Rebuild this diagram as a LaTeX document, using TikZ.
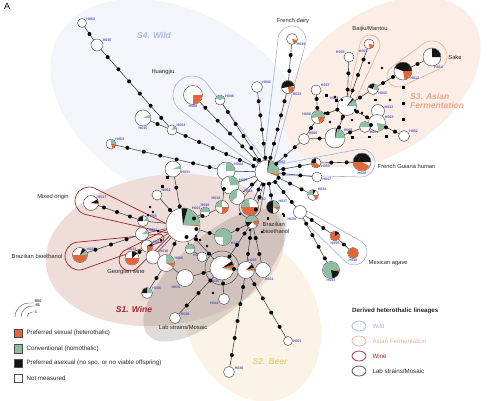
\documentclass[tikz,border=0pt]{standalone}
\usepackage{fontspec}
\setmainfont{Liberation Sans}
\usepackage{tikz}
\usetikzlibrary{calc, positioning, shapes.geometric}
\definecolor{HapOrange}{HTML}{E1663A}
\definecolor{HapGreen}{HTML}{8DBEA4}
\definecolor{HapBlack}{HTML}{151515}
\definecolor{HapEdge}{HTML}{4A4A4A}
\definecolor{HapLabel}{HTML}{5656B8}
\definecolor{WildFill}{HTML}{F4F5FB}
\definecolor{AsianFill}{HTML}{FBEEE7}
\definecolor{WineFill}{HTML}{EEDDD9}
\definecolor{BeerFill}{HTML}{FBF4E6}
\definecolor{LabFill}{HTML}{85786F}
\definecolor{WildLine}{HTML}{A4B3DC}
\definecolor{AsianLine}{HTML}{E9AE93}
\definecolor{WineLine}{HTML}{9E2429}
\definecolor{LabLine}{HTML}{4A4A4A}
\definecolor{WildText}{HTML}{AAB7DF}
\definecolor{AsianText}{HTML}{EBA68A}
\definecolor{BeerText}{HTML}{EACF85}
\definecolor{WineText}{HTML}{A4252B}

\pgfdeclarelayer{blobs}
\pgfdeclarelayer{edges}
\pgfsetlayers{blobs,edges,main}

\tikzset{
  hapnode/.style={circle, draw=HapEdge, line width=0.45pt, fill=white, inner sep=0pt, outer sep=0pt},
  haplabel/.style={font=\fontsize{3.6}{4}\selectfont\bfseries, text=HapLabel, inner sep=0.4pt},
  mut/.style={circle, fill=black, inner sep=0pt, minimum size=4pt},
  link/.style={draw=HapEdge, line width=0.6pt},
  faint/.style={draw=gray!60, line width=0.5pt, dotted},
  wildloop/.style={draw=WildLine, line width=0.6pt},
  asianloop/.style={draw=AsianLine, line width=0.6pt},
  wineloop/.style={draw=WineLine, line width=0.7pt},
  labloop/.style={draw=LabLine, line width=0.5pt},
  note/.style={font=\fontsize{5.8}{6.6}\selectfont, text=black!85, inner sep=0.5pt},
  group/.style={font=\fontsize{8.5}{9.5}\selectfont\bfseries\itshape, inner sep=0pt},
  legbox/.style={draw=black!70, line width=0.3pt, minimum size=8.5pt, inner sep=0pt},
  legtext/.style={font=\fontsize{6.2}{7}\selectfont, text=black!85, inner sep=1pt},
  keyloop/.style={ellipse, line width=0.7pt, minimum width=14pt, minimum height=10pt, inner sep=0pt},
}

% haplotype: name, position, radius, label angle, label
\newcommand{\hap}[5]{\node[hapnode, minimum size=#3*2pt, label={[haplabel]#4:#5}] (#1) at (#2) {};}
% pie piece: node, start, end, colour, radius
\newcommand{\piece}[5]{\fill[#4] (#1.center) -- ++({#2}:{#5-0.3}) arc[start angle=#2, end angle=#3, radius={#5-0.3}] -- cycle;}
% connector with mutation dots
\newcommand{\chain}[3]{%
  \begin{pgfonlayer}{edges}\draw[link] (#1) -- (#2);\end{pgfonlayer}%
  \foreach \k [evaluate=\k as \t using \k/(#3+1)] in {1,...,#3}{\node[mut] (#1-#2-\k) at ($(#1)!\t!(#2)$) {};}}
\newcommand{\dchain}[3]{%
  \begin{pgfonlayer}{edges}\draw[faint] (#1) -- (#2);\end{pgfonlayer}%
  \foreach \k [evaluate=\k as \t using \k/(#3+1)] in {1,...,#3}{\node[mut, rectangle, minimum size=2.6pt] (#1-#2-d\k) at ($(#1)!\t!(#2)$) {};}}
\newcommand{\hlink}[2]{\begin{pgfonlayer}{edges}\draw[link] (#1) -- (#2);\end{pgfonlayer}}
% lineage loop: style, round end, radius, tip, tip radius, direction
\newcommand{\lineage}[6]{\draw[#1] ($(#2)+({#6+90}:#3)$) arc[start angle={#6+90}, end angle={#6+270}, radius=#3] -- ($(#4)+({#6-90}:#5)$) arc[start angle={#6-90}, end angle={#6+90}, radius=#5] -- cycle;}

\begin{document}
\begin{tikzpicture}[x=1pt, y=1pt]
    \useasboundingbox (0,0) rectangle (489,-400);
    \node[font=\fontsize{9}{10}\selectfont, anchor=north west, inner sep=0pt] (panel) at (4,-3) {A};

    % Population backgrounds
    \begin{pgfonlayer}{blobs}
        \fill[WildFill, rotate around={-30:(180,-105)}] (180,-105) ellipse [x radius=140, y radius=92];
        \fill[AsianFill, rotate around={35:(382,-82)}] (382,-82) ellipse [x radius=110, y radius=70];
        \fill[BeerFill, rotate around={-68:(252,-318)}] (252,-318) ellipse [x radius=86, y radius=66];
        \fill[WineFill, rotate around={8:(165,-250)}] (165,-250) ellipse [x radius=120, y radius=75];
        \fill[LabFill, opacity=0.26, rotate around={42:(215,-275)}] (215,-275) ellipse [x radius=90, y radius=38];
    \end{pgfonlayer}

    % Group names
    \node[group, text=WildText] (nameWild) at (154,-35) {S4. Wild};
    \node[group, text=AsianText, align=left, anchor=west] (nameAsian) at (410,-101) {S3. Asian\\Fermentation};
    \node[group, text=WineText] (nameWine) at (134,-309) {S1. Wine};
    \node[group, text=BeerText] (nameBeer) at (270,-362) {S2. Beer};

    % Haplotypes: wild branches
    \hap{H062}{82,-23}{4.5}{30}{H062}
    \hap{H035}{97,-45}{6}{30}{H035}
    \hap{H015}{143,-118}{8}{-90}{H015}
    \hap{H054}{172,-130}{5}{35}{H054}
    \hap{H053}{111,-144}{5}{40}{H053}
    \hap{H008}{193,-95}{9.5}{-90}{H008}
    \hap{H046}{220,-100}{5}{20}{H046}
    \hap{H042}{257,-87}{5.5}{30}{H042}
    \hap{H033}{288,-87}{6.5}{-50}{H033}
    \hap{H039}{292,-39}{5.5}{-40}{H039}
    \hap{H031}{173,-169}{8}{-10}{H031}

    % Haplotypes: Asian fermentation
    \hap{H058}{349,-57}{5}{140}{H058}
    \hap{H061a}{369,-44}{5}{-100}{H061}
    \hap{H014}{432,-57}{9}{-80}{H014}
    \hap{H012}{403,-71}{9}{-40}{H012}
    \hap{H057}{316,-90}{5}{30}{H057}
    \hap{H011}{347,-106}{9.5}{145}{H011}
    \hap{H043}{373,-89}{5.5}{-30}{H043}
    \hap{H032}{378,-111}{6.5}{20}{H032}
    \hap{H063}{377,-123}{8.5}{30}{H063}
    \hap{H040}{318,-117}{6.5}{175}{H040}
    \hap{H060}{304,-139}{5.5}{40}{H060}
    \hap{H009}{335,-138}{10}{35}{H009}
    \hap{H051}{365,-127}{5.5}{-40}{H051}
    \hap{H052}{404,-136}{5.5}{30}{H052}

    % Haplotypes: centre and right
    \hap{H002}{267,-172}{12}{40}{H002}
    \hap{H004}{226,-171}{9}{30}{H004}
    \hap{H007}{230,-185}{9}{20}{H007}
    \hap{H013}{237,-197}{7.5}{30}{H013}
    \hap{H030}{250,-207}{8.5}{40}{H030}
    \hap{H037}{273,-207}{6.5}{40}{H037}
    \hap{H026}{252,-222}{6.5}{90}{H026}
    \hap{H034}{313,-195}{5.5}{40}{H034}
    \hap{H047}{317,-177}{5}{-10}{H047}
    \hap{H050}{316,-163}{5}{-20}{H050}
    \hap{H028}{362,-162}{9}{-90}{H028}
    \hap{H029}{300,-212}{6.5}{-120}{H029}
    \hap{H059}{335,-236}{5}{-90}{H059}
    \hap{H048}{353,-253}{5.5}{-90}{H048}
    \hap{H023}{331,-270}{8.5}{-90}{H023}

    % Haplotypes: wine and lab
    \hap{H001}{183,-225}{17}{60}{H001}
    \hap{H064}{157,-195}{5}{35}{H064}
    \hap{H017}{91,-203}{7.5}{35}{H017}
    \hap{H025}{80,-255}{7.5}{35}{H025}
    \hap{H024}{132,-258}{7}{90}{H024}
    \hap{H055}{143,-221}{5.5}{30}{H055}
    \hap{H027}{142,-234}{6.5}{20}{H027}
    \hap{H019}{147,-246}{6}{20}{H019}
    \hap{H016}{153,-257}{7}{30}{H016}
    \hap{H006}{166,-263}{8.5}{20}{H006}
    \hap{H049}{205,-212}{5}{90}{H049}
    \hap{H052b}{190,-249}{5}{-60}{H052}
    \hap{H056}{202,-257}{5}{0}{}
    \hap{H022}{223,-237}{8.5}{-30}{H022}
    \hap{H018}{222,-207}{6.5}{100}{H018}
    \hap{H020}{222,-268}{12}{-100}{H020}
    \hap{H005}{246,-270}{8.5}{80}{H005}
    \hap{H021}{263,-270}{7.5}{-80}{H021}
    \hap{H010}{185,-278}{8.5}{-120}{H010}
    \hap{H045}{147,-293}{5.5}{30}{H045}
    \hap{H038}{175,-318}{5.5}{20}{H038}
    \hap{H044}{224,-299}{5.5}{-150}{H044}
    \hap{H036}{229,-372}{5.5}{20}{H036}
    \hap{H061b}{288,-341}{4.5}{0}{H061}

    % Pie pieces
    \piece{H015}{0}{25}{HapGreen}{8}
    \piece{H054}{10}{70}{HapGreen}{5}
    \piece{H053}{0}{90}{HapGreen}{5}
    \piece{H053}{-70}{0}{HapOrange}{5}
    \piece{H008}{-90}{0}{HapOrange}{9.5}
    \piece{H046}{20}{160}{HapGreen}{5}
    \piece{H033}{10}{190}{HapBlack}{6.5}
    \piece{H033}{-80}{0}{HapOrange}{6.5}
    \piece{H039}{-70}{-10}{HapOrange}{5.5}
    \piece{H031}{0}{25}{HapGreen}{8}
    \piece{H061a}{-80}{-10}{HapOrange}{5}
    \piece{H014}{0}{90}{HapBlack}{9}
    \piece{H012}{0}{160}{HapBlack}{9}
    \piece{H012}{-80}{0}{HapOrange}{9}
    \piece{H011}{0}{45}{HapGreen}{9.5}
    \piece{H011}{45}{55}{HapBlack}{9.5}
    \piece{H043}{70}{160}{HapBlack}{5.5}
    \piece{H043}{-20}{70}{HapGreen}{5.5}
    \piece{H063}{-80}{-10}{HapGreen}{8.5}
    \piece{H040}{0}{190}{HapGreen}{6.5}
    \piece{H040}{-80}{0}{HapOrange}{6.5}
    \piece{H009}{0}{75}{HapGreen}{10}
    \piece{H009}{75}{85}{HapBlack}{10}
    \piece{H051}{0}{180}{HapGreen}{5.5}
    \piece{H002}{-10}{75}{HapGreen}{12}
    \piece{H002}{75}{83}{HapBlack}{12}
    \piece{H002}{-22}{-10}{HapOrange}{12}
    \piece{H004}{0}{90}{HapGreen}{9}
    \piece{H007}{0}{100}{HapGreen}{9}
    \piece{H013}{90}{220}{HapGreen}{7.5}
    \piece{H030}{180}{360}{HapOrange}{8.5}
    \piece{H030}{100}{180}{HapGreen}{8.5}
    \piece{H037}{90}{270}{HapBlack}{6.5}
    \piece{H037}{0}{90}{HapGreen}{6.5}
    \piece{H037}{-30}{0}{HapOrange}{6.5}
    \piece{H026}{20}{180}{HapGreen}{6.5}
    \piece{H026}{180}{230}{HapBlack}{6.5}
    \piece{H026}{-40}{20}{HapOrange}{6.5}
    \piece{H034}{90}{180}{HapGreen}{5.5}
    \piece{H034}{60}{90}{HapBlack}{5.5}
    \piece{H034}{-60}{0}{HapOrange}{5.5}
    \piece{H050}{90}{180}{HapBlack}{5}
    \piece{H050}{180}{330}{HapOrange}{5}
    \piece{H028}{0}{180}{HapBlack}{9}
    \piece{H028}{180}{330}{HapOrange}{9}
    \piece{H059}{90}{390}{HapOrange}{5}
    \piece{H059}{30}{90}{HapBlack}{5}
    \piece{H048}{0}{360}{HapOrange}{5.5}
    \piece{H023}{0}{280}{HapGreen}{8.5}
    \piece{H023}{-80}{-10}{HapBlack}{8.5}
    \piece{H023}{-10}{0}{HapOrange}{8.5}
    \piece{H001}{0}{75}{HapGreen}{17}
    \piece{H001}{75}{95}{HapBlack}{17}
    \piece{H001}{-4}{0}{HapOrange}{17}
    \piece{H017}{0}{30}{HapBlack}{7.5}
    \piece{H017}{-10}{0}{HapOrange}{7.5}
    \piece{H025}{180}{360}{HapOrange}{7.5}
    \piece{H025}{0}{40}{HapGreen}{7.5}
    \piece{H025}{40}{70}{HapBlack}{7.5}
    \piece{H024}{180}{360}{HapOrange}{7}
    \piece{H024}{40}{90}{HapBlack}{7}
    \piece{H055}{90}{180}{HapBlack}{5.5}
    \piece{H055}{0}{40}{HapGreen}{5.5}
    \piece{H027}{0}{40}{HapGreen}{6.5}
    \piece{H019}{-90}{0}{HapOrange}{6}
    \piece{H019}{0}{30}{HapBlack}{6}
    \piece{H006}{0}{90}{HapGreen}{8.5}
    \piece{H006}{-30}{0}{HapOrange}{8.5}
    \piece{H049}{0}{180}{HapGreen}{5}
    \piece{H052b}{0}{180}{HapGreen}{5}
    \piece{H022}{-90}{180}{HapGreen}{8.5}
    \piece{H018}{-90}{0}{HapOrange}{6.5}
    \piece{H018}{90}{180}{HapGreen}{6.5}
    \piece{H020}{15}{35}{HapBlack}{12}
    \piece{H020}{-5}{15}{HapOrange}{12}
    \piece{H020}{-15}{-5}{HapGreen}{12}
    \piece{H005}{15}{45}{HapBlack}{8.5}
    \piece{H005}{-5}{15}{HapOrange}{8.5}
    \piece{H005}{-12}{-5}{HapGreen}{8.5}
    \piece{H045}{90}{180}{HapBlack}{5.5}
    \piece{H045}{0}{90}{HapGreen}{5.5}

    % Derived heterothalic lineages
    \begin{pgfonlayer}{edges}
        \lineage{wildloop}{192,-95}{19}{262,-165}{5}{-45}
        \lineage{wildloop}{292,-40}{14}{269,-160}{5}{-101}
        \lineage{wildloop}{361,-163}{14}{276,-170}{5}{185}
        \lineage{wildloop}{354,-252}{13}{306,-216}{5}{143}
        \lineage{asianloop}{370,-45}{10}{352,-98}{4}{-109}
        \lineage{asianloop}{432,-56}{15}{398,-76}{11}{210}
        \lineage{wineloop}{89,-201}{14}{168,-229}{4}{-19.5}
        \lineage{wineloop}{79,-256}{14}{160,-238}{4}{12.5}
        \lineage{wineloop}{130,-260}{11}{166,-234}{4}{36}
        \lineage{labloop}{250,-207}{11}{262,-180}{4}{66}
        \draw[labloop] (H020.center) circle [radius=17];
    \end{pgfonlayer}

    % Mutational steps: wild
    \chain{H062}{H035}{1}
    \chain{H035}{H054}{6}
    \chain{H015}{H054}{1}
    \chain{H054}{H002}{6}
    \chain{H008}{H002}{5}
    \chain{H046}{H002}{5}
    \chain{H042}{H002}{5}
    \chain{H039}{H033}{2}
    \chain{H033}{H002}{5}
    \chain{H053}{H004}{6}
    \hlink{H004}{H002}
    \hlink{H007}{H002}
    \chain{H013}{H002}{1}

    % Mutational steps: Asian fermentation
    \chain{H002}{H060}{3}
    \chain{H060}{H040}{1}
    \chain{H040}{H057}{2}
    \chain{H040}{H011}{2}
    \chain{H011}{H058}{2}
    \chain{H011}{H061a}{3}
    \chain{H011}{H043}{1}
    \chain{H043}{H012}{2}
    \chain{H012}{H014}{1}
    \chain{H060}{H009}{1}
    \chain{H009}{H051}{1}
    \chain{H051}{H063}{1}
    \hlink{H063}{H032}
    \chain{H063}{H052}{2}
    \chain{H011}{H063}{2}
    \chain{H011}{H009}{2}
    \dchain{H057}{H011}{2}
    \dchain{H052}{H012}{3}
    \dchain{H009}{H052}{3}
    \dchain{H043}{H032}{1}

    % Mutational steps: centre and right
    \chain{H002}{H050}{2}
    \chain{H050}{H028}{2}
    \chain{H002}{H047}{2}
    \chain{H002}{H034}{3}
    \chain{H002}{H037}{2}
    \chain{H002}{H029}{3}
    \chain{H029}{H059}{2}
    \chain{H059}{H048}{1}
    \chain{H029}{H023}{4}
    \dchain{H026}{H029}{2}
    \chain{H030}{H002}{1}
    \chain{H026}{H002}{3}
    \chain{H026}{H005}{2}
    \chain{H026}{H021}{2}
    \chain{H026}{H022}{1}
    \chain{H026}{H020}{3}

    % Mutational steps: wine and lab
    \chain{H017}{H055}{3}
    \hlink{H055}{H001}
    \chain{H025}{H027}{3}
    \hlink{H027}{H001}
    \chain{H024}{H019}{1}
    \hlink{H019}{H001}
    \hlink{H016}{H001}
    \chain{H006}{H001}{1}
    \chain{H049}{H001}{1}
    \chain{H018}{H001}{1}
    \chain{H018}{H004}{1}
    \chain{H022}{H001}{2}
    \chain{H001}{H052b}{1}
    \hlink{H052b}{H056}
    \chain{H064}{H001}{1}
    \dchain{H031}{H064}{2}
    \chain{H031}{H001}{2}
    \hlink{H006}{H010}
    \chain{H010}{H020}{1}
    \chain{H045}{H006}{1}
    \chain{H038}{H020}{3}
    \chain{H044}{H020}{1}
    \chain{H020}{H005}{1}
    \chain{H005}{H036}{5}
    \chain{H005}{H061b}{4}
    \hlink{H005}{H021}
    \chain{H020}{H001}{2}

    % Unplaced median steps
    \foreach \p [count=\i] in {(369,-63),(382,-68),(335,-97),(342,-100),(362,-113),(352,-120),(342,-119),(325,-113),(330,-122),(355,-110),(390,-100),(150,-207),(153,-212),(148,-215),(158,-231),(161,-240),(250,-230),(262,-232),(283,-214),(200,-240),(207,-246),(213,-293),(196,-236),(240,-214)}
        \node[mut, minimum size=2.8pt] (free\i) at \p {};

    % Lineage names
    \node[note] (txtHuangjiu) at (163,-72) {Huangjiu};
    \node[note] (txtDairy) at (293,-21) {French dairy};
    \node[note] (txtBaijiu) at (370,-29) {Baijiu/Mantou};
    \node[note] (txtSake) at (455,-57) {Sake};
    \node[note, anchor=west] (txtGuiana) at (377,-166) {French Guiana human};
    \node[note, anchor=west] (txtAgave) at (368,-263) {Mexican agave};
    \node[note, align=left, anchor=west] (txtBioCentre) at (262,-228) {Brazilian\\bioethanol};
    \node[note] (txtMixed) at (53,-197) {Mixed origin};
    \node[note] (txtBioLeft) at (37,-256) {Brazilian bioethanol};
    \node[note] (txtGeorgian) at (126,-272) {Georgian wine};
    \node[note] (txtLab) at (183,-327) {Lab strains/Mosaic};

    % Size key
    \draw[HapEdge, line width=0.4pt] (15,-317) arc[start angle=180, end angle=90, radius=14] -- (34,-303);
    \draw[HapEdge, line width=0.4pt] (21,-317) arc[start angle=180, end angle=90, radius=11] -- (35,-306);
    \draw[HapEdge, line width=0.4pt] (27,-317) arc[start angle=180, end angle=90, radius=5] -- (34,-312);
    \node[font=\fontsize{4}{4.5}\selectfont, anchor=west, inner sep=0.3pt] (size894) at (34,-301) {894};
    \node[font=\fontsize{4}{4.5}\selectfont, anchor=west, inner sep=0.3pt] (size66) at (35,-305.5) {66};
    \node[font=\fontsize{4}{4.5}\selectfont, anchor=west, inner sep=0.3pt] (size4) at (34,-312) {4};

    % Phenotype key
    \node[legbox, fill=HapOrange] (keySex) at (18,-333) {};
    \node[legtext, right=3pt of keySex] (keySexTxt) {Preferred sexual (heterothalic)};
    \node[legbox, fill=HapGreen] (keyHomo) at (18,-348.5) {};
    \node[legtext, right=3pt of keyHomo] (keyHomoTxt) {Conventional (homothalic)};
    \node[legbox, fill=HapBlack] (keyAsex) at (18,-363) {};
    \node[legtext, right=3pt of keyAsex] (keyAsexTxt) {Preferred asexual (no spo. or no viable offspring)};
    \node[legbox, fill=white] (keyNone) at (18,-378) {};
    \node[legtext, right=3pt of keyNone] (keyNoneTxt) {Not measured};

    % Lineage key
    \node[legtext, font=\fontsize{6.2}{7}\selectfont\bfseries, anchor=west] (keyTitle) at (351,-311) {Derived heterothalic lineages};
    \node[keyloop, draw=WildLine] (keyWild) at (359,-326) {};
    \node[legtext, text=WildText, right=5pt of keyWild] (keyWildTxt) {Wild};
    \node[keyloop, draw=AsianLine] (keyAsian) at (359,-341) {};
    \node[legtext, text=AsianLine, right=5pt of keyAsian] (keyAsianTxt) {Asian Fermentation};
    \node[keyloop, draw=WineLine] (keyWine) at (359,-356) {};
    \node[legtext, text=WineLine, right=5pt of keyWine] (keyWineTxt) {Wine};
    \node[keyloop, draw=LabLine] (keyLab) at (359,-371) {};
    \node[legtext, right=5pt of keyLab] (keyLabTxt) {Lab strains/Mosaic};
\end{tikzpicture}
\end{document}
